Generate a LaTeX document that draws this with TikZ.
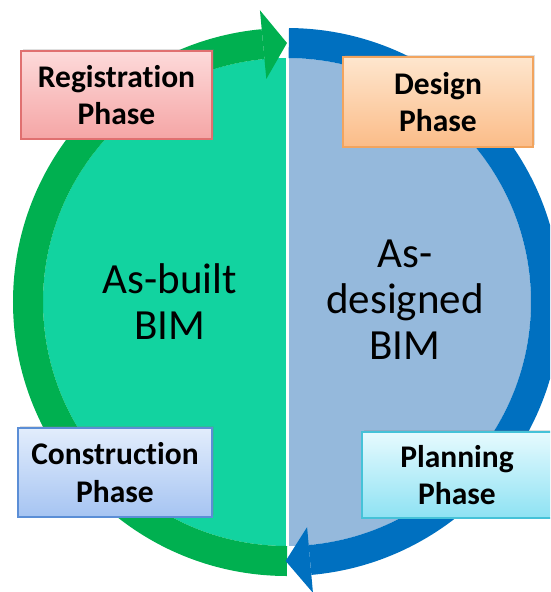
\documentclass[tikz,border=0pt]{standalone}
\usepackage{fontspec}
\setmainfont[Ligatures=NoCommon]{Carlito}
\usetikzlibrary{shadows}
\definecolor{ringgreen}{HTML}{00B050}
\definecolor{ringblue}{HTML}{0070C0}
\definecolor{fillteal}{HTML}{12D3A0}
\definecolor{fillsteel}{HTML}{95B9DC}
\definecolor{regtop}{HTML}{FDDADA}
\definecolor{regbot}{HTML}{F5A5A5}
\definecolor{regline}{HTML}{E07070}
\definecolor{destop}{HTML}{FEE6CE}
\definecolor{desbot}{HTML}{FBBC88}
\definecolor{desline}{HTML}{F2A45E}
\definecolor{contop}{HTML}{E2EDFC}
\definecolor{conbot}{HTML}{A6C4F2}
\definecolor{conline}{HTML}{5B8ED6}
\definecolor{platop}{HTML}{E6FAFE}
\definecolor{plabot}{HTML}{8EE2F3}
\definecolor{plaline}{HTML}{45C2D8}
\tikzset{
  phasebox/.style={rectangle, draw=#1line, line width=1.2pt,
    top color=#1top, bottom color=#1bot, align=center,
    font=\fontsize{31.5}{37.5}\selectfont\bfseries, inner sep=0pt,
    drop shadow={shadow xshift=2pt, shadow yshift=2pt, opacity=0.25}},
  bimtext/.style={align=center, font=\fontsize{43}{46}\selectfont, inner sep=0pt},
  ring/.style={line width=30pt, line cap=butt}
}
\begin{document}
\begin{tikzpicture}[x=1pt,y=-1pt]
\useasboundingbox (0,0) rectangle (550,592);
\clip (0,0) rectangle (550,592);
\begin{scope}[shift={(287,302)}]
  % halves
  \fill[fillteal] (90:244) arc (90:270:244) -- cycle;
  \fill[fillsteel] (-90:244) arc (-90:90:244) -- cycle;
  \draw[white, line width=3pt] (0,-244) -- (0,244);
  % green ring with arrowhead
  \draw[ring, ringgreen] (90:259) arc (90:264.7:259);
  \coordinate (gb1) at (264.7:224);
  \coordinate (gb2) at (264.7:293);
  \coordinate (gtip) at (270:259);
  \fill[ringgreen] (gb1) -- (gtip) -- (gb2) -- cycle;
  % blue ring with arrowhead
  \draw[ring, ringblue] (-89.6:259) arc (-89.6:84.9:259);
  \coordinate (bb1) at (84.9:226);
  \coordinate (bb2) at (84.9:292);
  \coordinate (btip) at (90.3:259);
  \fill[ringblue] (bb1) -- (btip) -- (bb2) -- cycle;
\end{scope}
% phase boxes
\node[phasebox=reg, minimum width=191pt, minimum height=88pt] (reg) at (116.5,95) {Registration\\Phase};
\node[phasebox=des, minimum width=190pt, minimum height=90pt] (des) at (438,102) {Design\\Phase};
\node[phasebox=con, minimum width=194pt, minimum height=89pt] (con) at (115,472.5) {Construction\\Phase};
\node[phasebox=pla, minimum width=190pt, minimum height=86pt] (pla) at (457,475) {Planning\\Phase};
% BIM labels
\node[bimtext] (built) at (170,302) {As-built\\BIM};
\node[bimtext] (designed) at (405,300) {As-\\designed\\BIM};
\end{tikzpicture}
\end{document}
